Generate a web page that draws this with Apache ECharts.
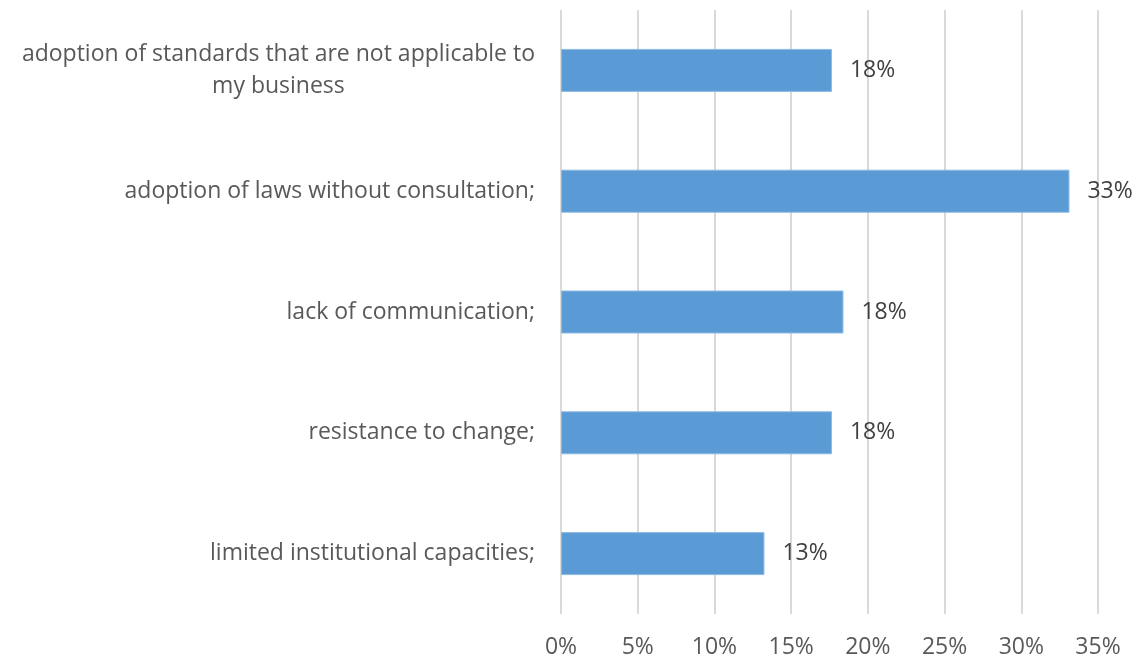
<!DOCTYPE html>
<html>
<head>
<meta charset="utf-8">
<script src="https://cdn.jsdelivr.net/npm/echarts@6/dist/echarts.min.js"></script>
<style>
html,body{margin:0;padding:0;background:#fff;}
#chart{width:1147px;height:660px;}
</style>
</head>
<body>
<div id="chart"></div>
<script>
var categories = [
  "adoption of standards that are not applicable to\nmy business",
  "adoption of laws without consultation;",
  "lack of communication;",
  "resistance to change;",
  "limited institutional capacities;"
];
var values = [17.66, 33.14, 18.41, 17.66, 13.26];
var tickLabels = ["0%", "5%", "10%", "15%", "20%", "25%", "30%", "35%"];

var FONT = "Open Sans";
var chart = echarts.init(document.getElementById('chart'));
chart.setOption({
  animation: false,
  backgroundColor: '#ffffff',
  grid: { left: 561, right: 49, top: 10, bottom: 46, containLabel: false },
  xAxis: {
    type: 'value', min: 0, max: 35, interval: 5,
    axisLine: { show: false }, axisTick: { show: false },
    splitLine: { show: true, lineStyle: { color: '#d9d9d9', width: 2 } },
    axisLabel: {
      color: '#595959', fontSize: 23, fontFamily: FONT, margin: 22,
      formatter: function (v) { return tickLabels[Math.round(v / 5)]; }
    }
  },
  yAxis: {
    type: 'category', data: categories, inverse: true,
    axisLine: { show: false }, axisTick: { show: false },
    axisLabel: {
      color: '#595959', fontSize: 23, fontFamily: FONT, margin: 26,
      lineHeight: 32,
      formatter: function (v) { return '{c|' + v.split('\n').join('}\n{c|') + '}'; },
      rich: { c: { align: 'center', color: '#595959', fontSize: 23, fontFamily: FONT, lineHeight: 32 } }
    }
  },
  series: [{
    type: 'bar', data: values, barWidth: 43,
    itemStyle: { color: '#5B9BD5', borderColor: '#8CB9E3', borderWidth: 1 },
    label: {
      show: true, position: 'right', distance: 18,
      color: '#404040', fontSize: 23, fontFamily: FONT,
      formatter: function (p) { return Math.round(p.value) + '%'; }
    }
  }]
});
</script>
</body>
</html>
